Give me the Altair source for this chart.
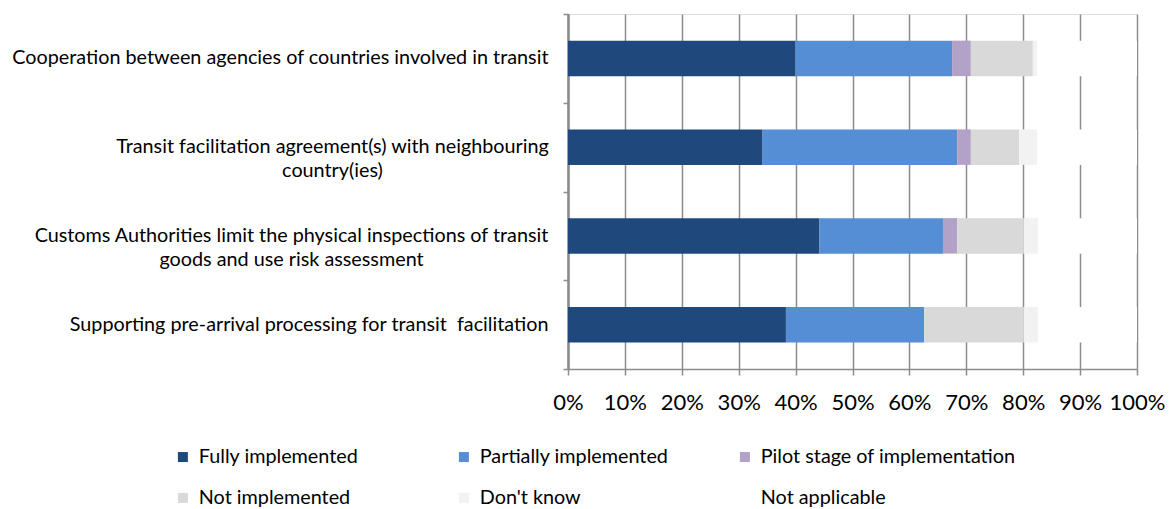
import altair as alt
import pandas as pd

categories = [
    "Cooperation between agencies of countries involved in transit",
    "Transit facilitation agreement(s) with neighbouring|country(ies)",
    "Customs Authorities limit the physical inspections of transit|goods and use risk assessment",
    "Supporting pre-arrival processing for transit\u00a0 facilitation",
]
series = ["Fully implemented", "Partially implemented", "Pilot stage of implementation",
          "Not implemented", "Don't know", "Not applicable"]
fully = [40.0, 34.2, 44.2, 38.3]
partially = [27.5, 34.2, 21.7, 24.3]
pilot = [3.3, 2.4, 2.5, 0.0]
not_impl = [10.9, 8.5, 11.7, 17.5]
dont_know = [0.8, 3.2, 2.5, 2.5]
not_app = [17.5, 17.5, 17.4, 17.4]
colors = ["#1F497D", "#558ED5", "#B3A2C7", "#D9D9D9", "#F2F2F2", "#FFFFFF"]
x_ticks = list(range(0, 101, 10))

rows = []
for si, (s, vals) in enumerate(zip(series, [fully, partially, pilot, not_impl, dont_know, not_app])):
    for c, v in zip(categories, vals):
        rows.append({"category": c, "series": s, "value": v, "order": si})
df = pd.DataFrame(rows)

FONT = "Lato"
GRID = "#8C8C8C"
HEIGHT = 355
HALF_STEP = HEIGHT / len(categories) / 2
yscale = alt.Scale(paddingInner=0.6, paddingOuter=0.3)


def label_axis(values, align, padding):
    return alt.Axis(values=values, orient="left", labelExpr="split(datum.label, '|')",
                    labelFont=FONT, labelFontSize=19.8, labelColor="#000000",
                    labelPadding=padding, labelAlign=align, labelLimit=0, labelLineHeight=24,
                    ticks=False, domainColor=GRID, domainWidth=1.5, grid=False, title=None)


def tick_axis(values, offset):
    # category separators on the left axis (between the bands, as in the original)
    return alt.Axis(values=values, orient="left", labels=False, tickOffset=offset,
                    tickSize=5, tickColor=GRID, tickWidth=1.5,
                    domainColor=GRID, domainWidth=1.5, grid=False, title=None)


x_enc = alt.X("value:Q", stack="zero", title=None,
              scale=alt.Scale(domain=[0, 100], nice=False),
              axis=alt.Axis(values=x_ticks, labelExpr="datum.value + '%'", labelFont=FONT,
                            labelFontSize=22, labelColor="#000000", labelPadding=17,
                            tickSize=6, tickColor=GRID, tickWidth=1.5, domainColor=GRID,
                            domainWidth=1.5, grid=True, gridColor=GRID, gridWidth=1.5,
                            labelFlush=False))

base = alt.Chart(df).encode(x=x_enc, order=alt.Order("order:Q"))


def ghost(axis):
    return base.mark_bar(opacity=0).encode(
        y=alt.Y("category:N", sort=categories, scale=yscale, axis=axis))


bars = base.mark_bar().encode(
    y=alt.Y("category:N", sort=categories, scale=yscale,
            axis=label_axis([categories[0], categories[3]], "right", 20)),
    color=alt.Color("series:N", sort=series,
                    scale=alt.Scale(domain=series, range=colors),
                    legend=alt.Legend(title=None, orient="none", legendX=-395, legendY=433,
                                      direction="horizontal", columns=3, gridAlign="all",
                                      symbolType="square", symbolSize=100, symbolStrokeWidth=0,
                                      labelFont=FONT, labelFontSize=19.8, labelColor="#000000",
                                      labelOffset=6, columnPadding=0, rowPadding=20,
                                      labelLimit=0)),
)
# two-line labels: the second line centred under the first, as in the original
lab1 = ghost(label_axis([categories[1]], "center", 236))
lab2 = ghost(label_axis([categories[2]], "center", 277))
ticks_low = ghost(tick_axis(categories, HALF_STEP))
ticks_top = ghost(tick_axis([categories[0]], -HALF_STEP))

chart = alt.layer(bars, lab1, lab2, ticks_low, ticks_top).resolve_axis(y="independent").properties(
    width=569, height=HEIGHT,
    autosize=alt.AutoSizeParams(type="none"),
    padding={"left": 560, "top": 6, "right": 30, "bottom": 140},
).configure_view(stroke=None).configure(background="white")

chart.save("out.html", embed_options={"renderer": "svg", "actions": False})
